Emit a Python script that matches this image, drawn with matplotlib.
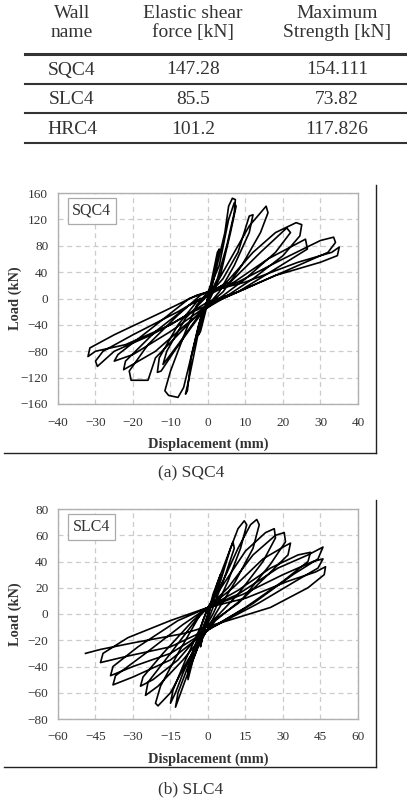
import matplotlib
matplotlib.use("Agg")
import matplotlib.pyplot as plt
from matplotlib.lines import Line2D

W, H = 407, 801

# ---------------- data ----------------
table_header = ["Wall\nname", "Elastic shear\nforce [kN]", "Maximum\nStrength [kN]"]
wall_names = ["SQC4", "SLC4", "HRC4"]
elastic_shear = ["147.28", "85.5", "101.2"]
max_strength = ["154.111", "73.82", "117.826"]

sqc4_disp = [0, 1.5, 3, 2.5, 0.5, -1, -2.5, -2, 0,
             2, 4.5, 5.5, 6.5, 7.3, 7, 5, 2.5, 0, -2.5, -5, -6.5, -8, -10.5, -11.5, -10, -6, -3, 0,
             3, 5.5, 7, 7.5, 6, 3.5, 1, -2, -4.5, -5.5, -6, -5, -2.5, 0,
             3, 7, 11, 15.5, 16, 14, 9, 4, 0, -4, -9, -12.5, -13.5, -13, -8, -3, 0,
             4, 8, 11, 12, 11, 7, 3, -3, -8, -12, -11, -6, 0,
             5, 12, 18, 23.5, 25, 24.5, 20, 12, 4, -2, -8, -14, -16, -20.5, -21, -16, -8, -2, 0,
             6, 14, 21, 22, 18, 10, 3, -6, -14, -22.5, -22, -14, -5, 0,
             7, 16, 26, 26.5, 18, 8, 0, -10, -20, -25, -24, -15, -5, 0,
             8, 20, 30, 33.5, 34, 32, 20, 8, 0, -10, -22, -30, -32, -31.5, -25, -12, -3, 0,
             10, 24, 33, 35, 34.5, 30, 18, 6, -4, -15, -25, -29.5, -30, -28, -20, -8, -2]
sqc4_load = [0, 30, 75, 70, 15, -20, -55, -50, -5,
             40, 100, 140, 152, 150, 130, 80, 30, 0, -40, -100, -135, -150, -147, -140, -110, -50, -10, 10,
             50, 120, 145, 140, 100, 40, 5, -30, -90, -140, -145, -120, -50, 0,
             30, 70, 110, 140, 130, 100, 50, 10, -10, -40, -80, -110, -112, -90, -40, -5, 5,
             30, 70, 125, 127, 100, 50, 10, -30, -70, -100, -80, -30, 5,
             25, 70, 100, 115, 112, 95, 65, 30, 0, -20, -55, -90, -124, -124, -110, -70, -25, 5, 10,
             25, 70, 107, 100, 70, 30, 0, -40, -80, -108, -95, -50, -10, 5,
             25, 60, 90, 75, 45, 10, -10, -50, -85, -95, -85, -45, 0, 10,
             25, 60, 88, 93, 85, 70, 40, 10, -5, -40, -70, -80, -88, -75, -55, -20, 5, 10,
             25, 55, 70, 78, 65, 55, 35, 5, -20, -55, -80, -103, -95, -80, -55, -20, 0]

slc4_disp = [0, 2, 5, 4.5, 1, -1.5, -3, -2.5, 0,
             4, 8, 10, 10.5, 7, 3, -2, -6, -8, -8, -4, 0,
             5, 9, 12, 14.5, 15.5, 13, 8, 2, -4, -10, -13, -15, -14, -9, -3, 0,
             6, 12, 17, 19.5, 20.5, 18, 11, 3, -4, -9, -13, -12, -7, -2, 0,
             7, 15, 23, 26.5, 27, 22, 12, 2, -8, -15, -20, -21, -19, -12, -3, 0,
             8, 18, 27, 30.5, 31, 25, 14, 3, -10, -20, -25, -24, -15, -5, 0,
             10, 22, 31, 33, 32, 24, 12, 0, -12, -22, -27, -26, -18, -6, 0,
             12, 25, 36, 41, 40, 30, 15, 0, -15, -30, -38, -37, -25, -10, 0,
             12, 28, 40, 46, 44, 34, 18, 2, -15, -30, -39, -38, -28, -12, 0,
             14, 30, 42, 46, 44, 35, 20, 4, -15, -32, -43, -42, -32, -15, 0,
             15, 32, 43, 47, 46.5, 40, 25, 8, -10, -30, -43, -49]
slc4_load = [0, 15, 30, 25, 5, -12, -25, -20, 0,
             25, 45, 55, 50, 30, 10, -15, -35, -50, -42, -20, 0,
             25, 50, 65, 71, 68, 50, 25, 0, -20, -45, -60, -68, -58, -35, -10, 5,
             25, 50, 68, 72, 68, 50, 25, 0, -25, -50, -71, -60, -35, -5, 5,
             25, 48, 62, 65, 58, 40, 15, -5, -35, -60, -70, -68, -55, -30, 0, 5,
             20, 45, 60, 62, 55, 38, 12, -5, -35, -55, -62, -52, -30, -5, 5,
             20, 42, 52, 54, 45, 30, 8, -8, -35, -50, -55, -48, -30, -5, 5,
             18, 35, 45, 47, 40, 25, 5, -12, -35, -48, -54, -47, -30, -8, 5,
             15, 35, 45, 51, 42, 30, 8, -10, -30, -40, -47, -40, -25, -5, 5,
             15, 30, 40, 42, 35, 25, 8, -8, -25, -32, -37, -30, -18, -5, 5,
             12, 25, 32, 36, 30, 20, 5, -5, -15, -22, -27, -30]

panels = [
    dict(name="SQC4", caption="(a) SQC4", x=sqc4_disp, y=sqc4_load,
         xlim=(-40, 40), xticks=[-40, -30, -20, -10, 0, 10, 20, 30, 40],
         ylim=(-160, 160), yticks=[-160, -120, -80, -40, 0, 40, 80, 120, 160],
         box=(58, 193, 358, 404), frame=(185, 453), cap_y=473),
    dict(name="SLC4", caption="(b) SLC4", x=slc4_disp, y=slc4_load,
         xlim=(-60, 60), xticks=[-60, -45, -30, -15, 0, 15, 30, 45, 60],
         ylim=(-80, 80), yticks=[-80, -60, -40, -20, 0, 20, 40, 60, 80],
         box=(58, 509, 358, 719), frame=(500, 767), cap_y=789),
]

SERIF = ["Liberation Serif", "DejaVu Serif"]
TXT = "#333333"

fig = plt.figure(figsize=(W / 100, H / 100), dpi=100)


def fx(px):
    return px / W


def fy(py):
    return 1 - py / H


# ---------------- table ----------------
col_x = [72, 193, 337]
for cx, head in zip(col_x, table_header):
    fig.text(fx(cx), fy(23), head, ha="center", va="center", family=SERIF,
             fontsize=14, color=TXT, linespacing=1.2)
row_y = [70, 99, 129]
for ry, a, b, c in zip(row_y, wall_names, elastic_shear, max_strength):
    for cx, t in zip(col_x, (a, b, c)):
        fig.text(fx(cx), fy(ry), t, ha="center", va="center", family=SERIF,
                 fontsize=14, color=TXT)
for ly, lw in [(54, 2.2), (84, 1.5), (113, 1.5), (143, 1.5)]:
    fig.add_artist(Line2D([fx(25), fx(407)], [fy(ly), fy(ly)], color="#333333",
                          lw=lw, transform=fig.transFigure))

# ---------------- panels ----------------
for p in panels:
    x0, y0, x1, y1 = p["box"]
    ax = fig.add_axes([fx(x0), fy(y1), fx(x1) - fx(x0), fy(y0) - fy(y1)])
    ax.plot(p["x"], p["y"], color="black", lw=1.2, solid_joinstyle="round")
    ax.set_xlim(p["xlim"])
    ax.set_ylim(p["ylim"])
    ax.set_xticks(p["xticks"])
    ax.set_yticks(p["yticks"])
    ax.grid(True, color="#cccccc", ls=(0, (4, 3)), lw=0.9)
    ax.set_axisbelow(True)
    for s in ax.spines.values():
        s.set_color("#b0b0b0")
        s.set_linewidth(1.0)
    ax.tick_params(axis="y", length=0, pad=7, labelsize=9.5, labelcolor=TXT)
    ax.tick_params(axis="x", length=0, pad=9, labelsize=9.5, labelcolor=TXT)
    for lab in ax.get_xticklabels() + ax.get_yticklabels():
        lab.set_family(SERIF)
    ax.set_xlabel("Displacement (mm)", family=SERIF, fontweight="bold",
                  fontsize=10.4, color=TXT, va="center")
    ax.set_ylabel("Load (kN)", family=SERIF, fontweight="bold",
                  fontsize=10.4, color=TXT, va="center")
    ax.xaxis.set_label_coords(0.5, -40 / (y1 - y0))
    ax.yaxis.set_label_coords(-43 / (x1 - x0), 0.5)
    ax.text(0.113, 0.915, p["name"], transform=ax.transAxes, ha="center",
            va="center", family=SERIF, fontsize=11.5, color=TXT,
            bbox=dict(boxstyle="square,pad=0.3", fc="white", ec="#aaaaaa", lw=0.9))
    ft, fb = p["frame"]
    fig.add_artist(Line2D([fx(376), fx(376)], [fy(ft), fy(fb)], color="#222222",
                          lw=1.0, transform=fig.transFigure))
    fig.add_artist(Line2D([fx(4), fx(376)], [fy(fb), fy(fb)], color="#222222",
                          lw=1.0, transform=fig.transFigure))
    fig.text(fx(191), fy(p["cap_y"]), p["caption"], ha="center", va="center",
             family=SERIF, fontsize=12.5, color=TXT)

fig.savefig("out.png", dpi=100)
